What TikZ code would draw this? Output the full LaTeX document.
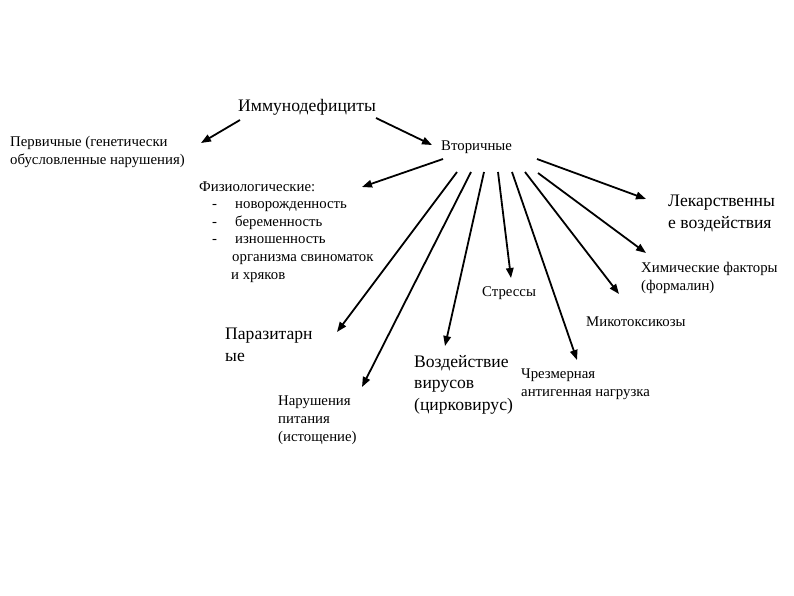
\documentclass[tikz,border=0pt]{standalone}
\usepackage{fontspec}
\setmainfont{Liberation Serif}
\usetikzlibrary{arrows.meta}
\tikzset{
  txs/.style = {anchor=base west, inner sep=0pt, align=left,
                font=\fontsize{14.8}{17.6}\selectfont},
  txl/.style = {txs, font=\fontsize{17.6}{21.5}\selectfont},
  arr/.style = {line width=1.8pt, -{Triangle[length=10pt,width=7.5pt]}},
}

\begin{document}
\begin{tikzpicture}[x=1pt,y=-1pt]
  \useasboundingbox (0,0) rectangle (794,595);
  % base anchor = last line
  \node[txl] (imm) at (238,111) {Иммунодефициты};
  \node[txs] (perv) at (10,164) {Первичные (генетически\\обусловленные нарушения)};
  \node[txs] (vtor) at (441,150) {Вторичные};
  \node[txs] (fiz) at (199,279) {Физиологические:\\
    \hspace*{13pt}\makebox[23pt][l]{-}новорожденность\\
    \hspace*{13pt}\makebox[23pt][l]{-}беременность\\
    \hspace*{13pt}\makebox[23pt][l]{-}изношенность\\
    \hspace*{33pt}организма свиноматок\\
    \hspace*{32pt}и хряков};
  \node[txl] (lek) at (668,228) {Лекарственны\\е воздействия};
  \node[txs] (him) at (641,290) {Химические факторы\\(формалин)};
  \node[txs] (str) at (482,296) {Стрессы};
  \node[txs] (mik) at (586,326) {Микотоксикозы};
  \node[txl] (par) at (225,361) {Паразитарн\\ые};
  \node[txs] (nar) at (278,441) {Нарушения\\питания\\(истощение)};
  \node[txl] (voz) at (414,410) {Воздействие\\вирусов\\(цирковирус)};
  \node[txs] (chr) at (521,396) {Чрезмерная\\антигенная нагрузка};
  % arrow ends
  \coordinate (i1) at (240,120);  \coordinate (hperv) at (201,143);
  \coordinate (i2) at (376,118);  \coordinate (hvtor) at (432,145);
  \coordinate (v1) at (443,159);  \coordinate (hfiz) at (362,187);
  \coordinate (v2) at (457,172);  \coordinate (hpar) at (337,332);
  \coordinate (v3) at (471,172);  \coordinate (hnar) at (362,387);
  \coordinate (v4) at (484,172);  \coordinate (hvoz) at (445,346);
  \coordinate (v5) at (498,172);  \coordinate (hstr) at (511,278);
  \coordinate (v6) at (512,172);  \coordinate (hchr) at (577,360);
  \coordinate (v7) at (525,172);  \coordinate (hmik) at (619,294);
  \coordinate (v8) at (538,173);  \coordinate (hhim) at (646,253);
  \coordinate (v9) at (537,159);  \coordinate (hlek) at (646,199);
  \foreach \s/\e in {i1/hperv,i2/hvtor,v1/hfiz,v2/hpar,v3/hnar,v4/hvoz,
                     v5/hstr,v6/hchr,v7/hmik,v8/hhim,v9/hlek}
    \draw[arr] (\s) -- (\e);
\end{tikzpicture}
\end{document}
